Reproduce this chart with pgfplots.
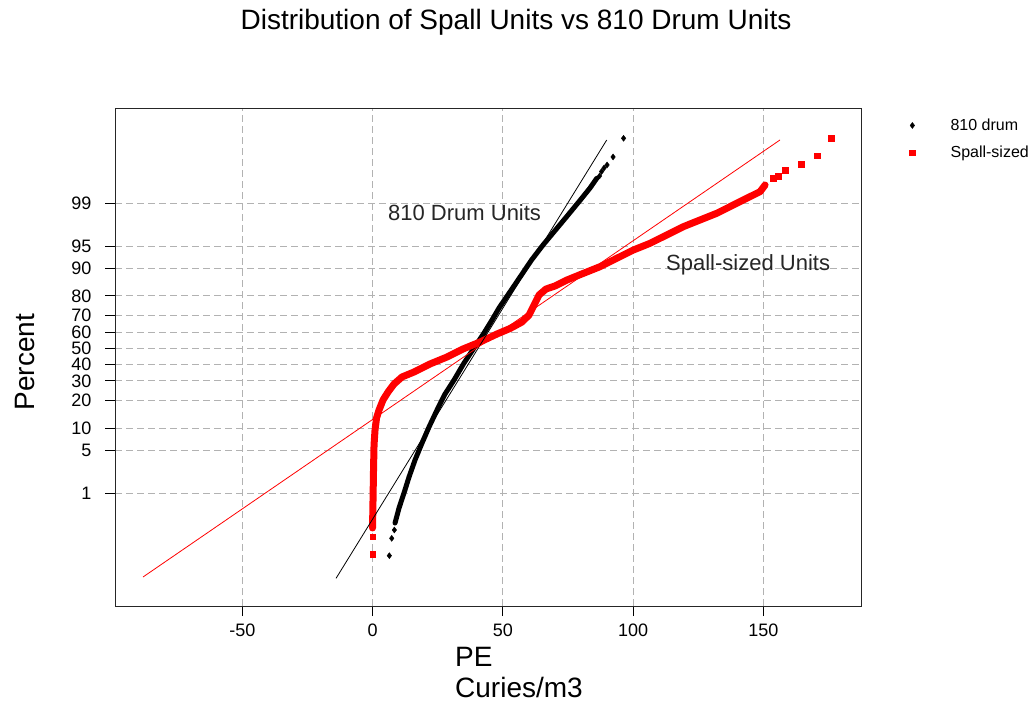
\documentclass[border=0pt]{standalone}
\usepackage{fontspec}
\setmainfont{Liberation Sans}
\usepackage{pgfplots}
\usepackage{pgfplotstable}
\pgfplotsset{compat=1.18}

% x = PE (Curies/m3), z = normal score of the percent
\pgfplotstableread{
x z
6.45 -3.334
7.37 -3.055
8.37 -2.921
}\drumlow
\pgfplotstableread{
x z
8.64 -2.809
10.17 -2.568
12.09 -2.326
14.01 -2.069
16.31 -1.796
19.00 -1.523
21.69 -1.265
24.76 -0.992
27.83 -0.735
31.29 -0.510
35.12 -0.236
38.96 0.005
42.80 0.246
45.87 0.455
48.56 0.648
55.09 1.050
61.04 1.420
65.45 1.661
69.29 1.854
74.09 2.095
79.46 2.368
83.49 2.577
86.07 2.733
}\drummid
\pgfplotstableread{
x z
87.14 2.770
87.91 2.842
88.87 2.899
90.02 2.947
92.32 3.076
96.35 3.376
}\drumhigh
\pgfplotstableread{
x z
0.0 -3.312
0.0 -3.029
}\spalllow
\pgfplotstableread{
x z
0.0 -2.889
0.19 -2.436
0.38 -1.957
0.58 -1.555
0.96 -1.313
1.54 -1.121
2.50 -0.992
4.03 -0.831
5.95 -0.703
8.25 -0.574
11.32 -0.461
15.93 -0.381
22.07 -0.252
28.60 -0.140
34.74 -0.011
41.27 0.101
47.79 0.230
52.78 0.318
57.39 0.423
60.08 0.535
62.00 0.696
63.92 0.857
66.61 0.953
70.06 1.002
74.66 1.098
80.81 1.203
87.33 1.312
93.74 1.447
100.12 1.580
106.53 1.688
112.94 1.822
119.31 1.955
125.72 2.063
132.13 2.170
138.50 2.304
143.65 2.412
148.75 2.518
150.67 2.625
}\spallmid
\pgfplotstableread{
x z
153.86 2.733
155.78 2.770
158.35 2.867
164.49 2.963
170.75 3.096
176.01 3.376
}\spallhigh

\begin{document}
\begin{tikzpicture}[x=1pt,y=1pt]
\path[use as bounding box] (0,0) rectangle (1032,704);
\begin{axis}[
  at={(115pt,98pt)}, anchor=south west,
  scale only axis, width=746pt, height=497pt,
  xmin=-98.85, xmax=187.5, ymin=-4.143, ymax=3.847,
  xtick={-50,0,50,100,150},
  ytick={-2.3263,-1.6449,-1.2816,-0.8416,-0.5244,-0.2533,0,0.2533,0.5244,0.8416,1.2816,1.6449,2.3263},
  yticklabels={1,5,10,20,30,40,50,60,70,80,90,95,99},
  tick pos=left, tick align=outside, major tick length=10pt,
  tick style={black, line width=0.9pt},
  grid=major, grid style={black!30, dash pattern=on 7pt off 4pt, line width=0.9pt},
  axis line style={black!85, line width=1pt},
  ticklabel style={font=\fontsize{18}{18}\selectfont},
  yticklabel style={xshift=-10pt, inner ysep=0pt},
  xticklabel style={yshift=-4pt},
  /pgf/number format/assume math mode=true,
  legend style={at={(1.0643,0.9845)}, anchor=north west, draw=none, fill=none,
    font=\fontsize{16}{16}\selectfont, row sep=10pt, inner xsep=0pt, inner ysep=0pt},
  legend cell align=left,
  legend image code/.code={\path (-3pt,0pt) (36pt,0pt); \draw[#1] plot coordinates {(0pt,0pt)};},
]
\addplot[only marks, mark=diamond*, mark size=3pt, black] table[x=x,y=z] {\drumlow};
\addlegendentry{810 drum}
\addplot[only marks, mark=square*, mark size=2.8pt, red] table[x=x,y=z] {\spalllow};
\addlegendentry{Spall-sized}
\addplot[forget plot, black, line width=5pt, line cap=round, line join=round] table[x=x,y=z] {\drummid};
\addplot[forget plot, only marks, mark=diamond*, mark size=3pt, black] table[x=x,y=z] {\drumhigh};
\addplot[forget plot, red, line width=7pt, line cap=round, line join=round] table[x=x,y=z] {\spallmid};
\addplot[forget plot, only marks, mark=square*, mark size=2.8pt, red] table[x=x,y=z] {\spallhigh};
\addplot[forget plot, black, line width=0.8pt] coordinates {(-14.0,-3.698) (89.9,3.349)};
\addplot[forget plot, red, line width=0.8pt] coordinates {(-88.1,-3.677) (156.4,3.349)};
\end{axis}
\node[font=\fontsize{28}{30}\selectfont] at (516,682) {Distribution of Spall Units vs 810 Drum Units};
\node[rotate=90, font=\fontsize{28}{30}\selectfont] at (25,342) {Percent};
\node[anchor=base west, inner sep=0pt, font=\fontsize{28}{30}\selectfont] at (455,38) {PE};
\node[anchor=base west, inner sep=0pt, font=\fontsize{28}{30}\selectfont] at (455,7) {Curies/m3};
\node[anchor=base west, inner sep=0pt, text=black!85, font=\fontsize{22}{24}\selectfont] at (388,483) {810 Drum Units};
\node[anchor=base west, inner sep=0pt, text=black!85, font=\fontsize{22}{24}\selectfont] at (666,433) {Spall-sized Units};
\end{tikzpicture}
\end{document}
